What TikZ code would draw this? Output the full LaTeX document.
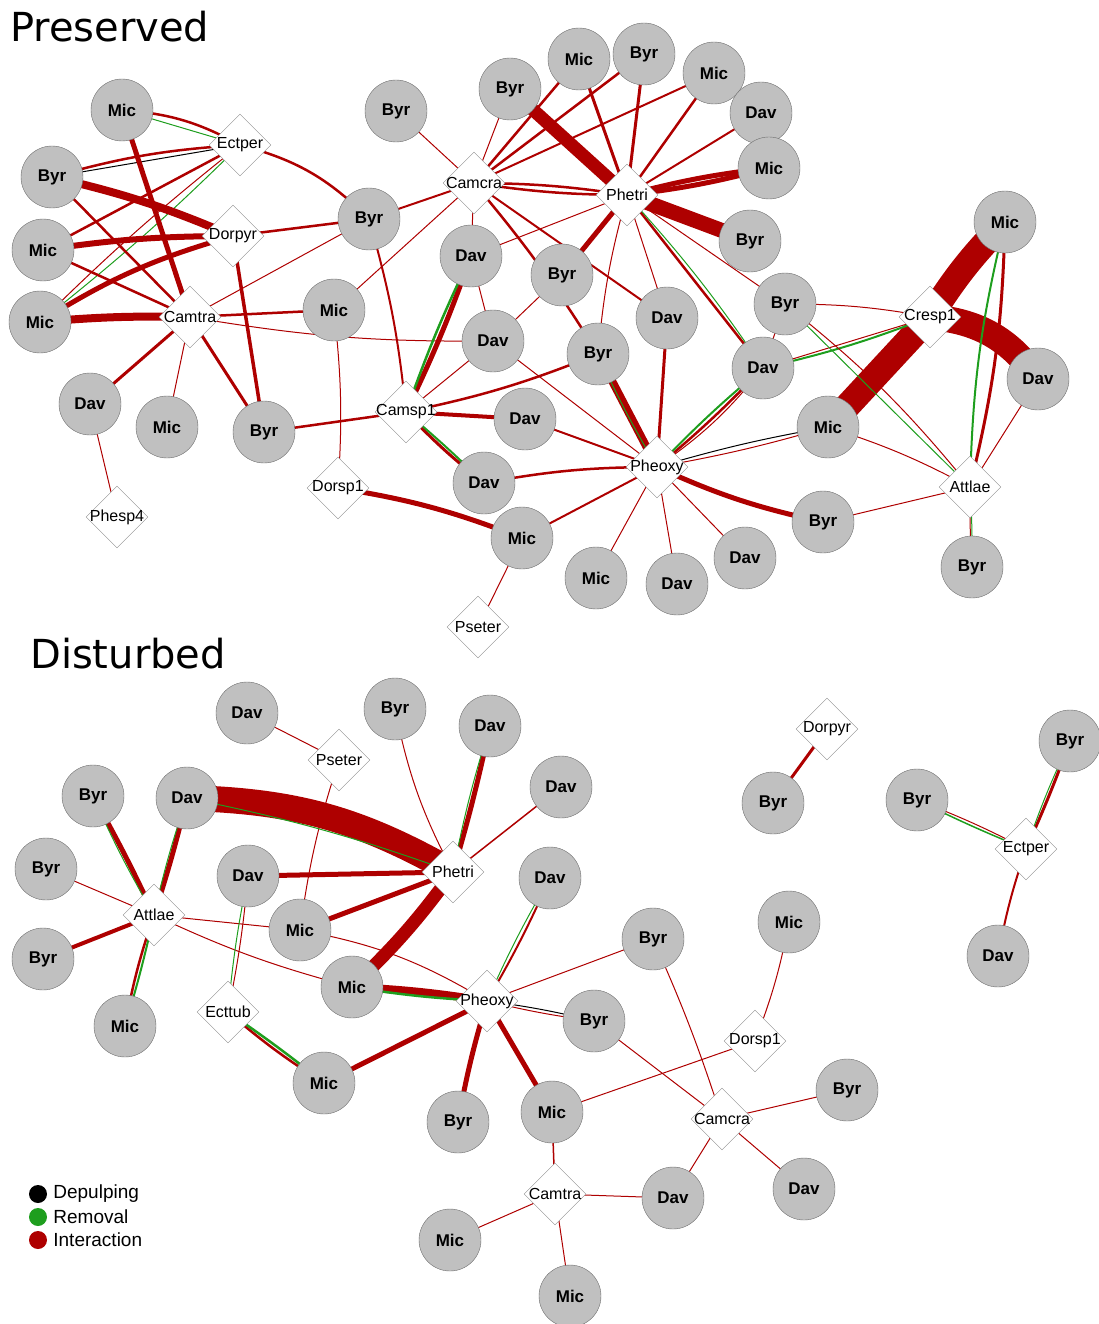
\documentclass[tikz,border=0pt]{standalone}
\usepackage{fontspec}
\setmainfont{Liberation Sans}
\newfontfamily\titlefont{DejaVu Sans}
\usepackage{tikz}
\usepackage{xcolor}
\definecolor{int_red}{HTML}{AE0000}
\definecolor{rem_green}{HTML}{1E9E1E}
\definecolor{plant_gray}{HTML}{C0C0C0}
\usetikzlibrary{shapes.geometric}
\pgfdeclarelayer{edges}
\pgfsetlayers{edges,main}
\tikzset{PLANT/.style={circle,minimum size=62pt,inner sep=0pt,draw=gray!85!black,fill=plant_gray,font=\fontsize{17}{17}\selectfont\bfseries}}
\tikzset{SPECIES/.style={diamond,minimum width=62pt,minimum height=62pt,inner sep=0pt,draw=gray!90,fill=white,label={[font=\fontsize{16}{16}\selectfont,inner sep=0pt]center:#1}}}
\tikzset{INTER/.style={int_red,line width=#1}, INTER/.default=1pt}
\tikzset{REMOV/.style={rem_green,line width=#1}, REMOV/.default=1pt}
\tikzset{DEPUL/.style={black,line width=#1}, DEPUL/.default=1pt}
\tikzset{TITLE/.style={anchor=base west,inner sep=0pt,font=\titlefont\fontsize{40}{40}\selectfont}}
\tikzset{LEGDOT/.style={circle,minimum size=18pt,inner sep=0pt,label={[font=\fontsize{19}{19}\selectfont,inner sep=0pt,xshift=6pt]right:#1}}}

\begin{document}
\begin{tikzpicture}[x=1pt,y=-1pt]
\useasboundingbox (0,0) rectangle (1099,1324);

\node[TITLE] (n_title_pre) at (10,42) {Preserved};
\node[TITLE] (n_title_dis) at (30,668) {Disturbed};

% preserved
\node[PLANT] (n_pre_mic1) at (122,110) {Mic};
\node[PLANT] (n_pre_byr1) at (52,177) {Byr};
\node[PLANT] (n_pre_mic2) at (43,250) {Mic};
\node[PLANT] (n_pre_mic3) at (40,322) {Mic};
\node[PLANT] (n_pre_dav1) at (90,404) {Dav};
\node[PLANT] (n_pre_mic4) at (167,427) {Mic};
\node[PLANT] (n_pre_byr2) at (264,432) {Byr};
\node[PLANT] (n_pre_mic5) at (334,310) {Mic};
\node[PLANT] (n_pre_byr3) at (369,219) {Byr};
\node[PLANT] (n_pre_byr4) at (396,111) {Byr};
\node[PLANT] (n_pre_byr5) at (510,89) {Byr};
\node[PLANT] (n_pre_mic6) at (579,59) {Mic};
\node[PLANT] (n_pre_byr6) at (644,54) {Byr};
\node[PLANT] (n_pre_mic7) at (714,73) {Mic};
\node[PLANT] (n_pre_dav2) at (761,113) {Dav};
\node[PLANT] (n_pre_mic8) at (769,168) {Mic};
\node[PLANT] (n_pre_byr7) at (750,241) {Byr};
\node[PLANT] (n_pre_dav3) at (471,256) {Dav};
\node[PLANT] (n_pre_byr8) at (562,275) {Byr};
\node[PLANT] (n_pre_dav4) at (493,341) {Dav};
\node[PLANT] (n_pre_byr9) at (598,354) {Byr};
\node[PLANT] (n_pre_dav5) at (667,318) {Dav};
\node[PLANT] (n_pre_byr10) at (785,304) {Byr};
\node[PLANT] (n_pre_dav6) at (763,368) {Dav};
\node[PLANT] (n_pre_mic9) at (1005,222) {Mic};
\node[PLANT] (n_pre_dav7) at (1038,379) {Dav};
\node[PLANT] (n_pre_mic10) at (828,427) {Mic};
\node[PLANT] (n_pre_dav8) at (525,419) {Dav};
\node[PLANT] (n_pre_dav9) at (484,483) {Dav};
\node[PLANT] (n_pre_mic11) at (522,538) {Mic};
\node[PLANT] (n_pre_mic12) at (596,578) {Mic};
\node[PLANT] (n_pre_dav10) at (677,584) {Dav};
\node[PLANT] (n_pre_dav11) at (745,558) {Dav};
\node[PLANT] (n_pre_byr11) at (823,522) {Byr};
\node[PLANT] (n_pre_byr12) at (972,567) {Byr};

\node[SPECIES=Ectper] (n_pre_ectper) at (240,145) {};
\node[SPECIES=Dorpyr] (n_pre_dorpyr) at (233,236) {};
\node[SPECIES=Camtra] (n_pre_camtra) at (190,317) {};
\node[SPECIES=Camcra] (n_pre_camcra) at (474,183) {};
\node[SPECIES=Phetri] (n_pre_phetri) at (627,195) {};
\node[SPECIES=Cresp1] (n_pre_cresp1) at (930,317) {};
\node[SPECIES=Camsp1] (n_pre_camsp1) at (406,412) {};
\node[SPECIES=Dorsp1] (n_pre_dorsp1) at (338,488) {};
\node[SPECIES=Pheoxy] (n_pre_pheoxy) at (657,467) {};
\node[SPECIES=Attlae] (n_pre_attlae) at (970,487) {};
\node[SPECIES=Phesp4] (n_pre_phesp4) at (117,517) {};
\node[SPECIES=Pseter] (n_pre_pseter) at (478,627) {};

% disturbed
\node[PLANT] (n_dis_dav1) at (247,713) {Dav};
\node[PLANT] (n_dis_byr1) at (395,709) {Byr};
\node[PLANT] (n_dis_dav2) at (490,726) {Dav};
\node[PLANT] (n_dis_dav3) at (561,787) {Dav};
\node[PLANT] (n_dis_byr2) at (93,796) {Byr};
\node[PLANT] (n_dis_dav4) at (187,798) {Dav};
\node[PLANT] (n_dis_byr3) at (46,869) {Byr};
\node[PLANT] (n_dis_dav5) at (248,876) {Dav};
\node[PLANT] (n_dis_dav6) at (550,878) {Dav};
\node[PLANT] (n_dis_mic1) at (300,930) {Mic};
\node[PLANT] (n_dis_byr4) at (43,959) {Byr};
\node[PLANT] (n_dis_mic2) at (352,987) {Mic};
\node[PLANT] (n_dis_byr5) at (653,939) {Byr};
\node[PLANT] (n_dis_mic3) at (789,922) {Mic};
\node[PLANT] (n_dis_mic4) at (125,1026) {Mic};
\node[PLANT] (n_dis_byr6) at (594,1021) {Byr};
\node[PLANT] (n_dis_mic5) at (324,1083) {Mic};
\node[PLANT] (n_dis_byr7) at (458,1122) {Byr};
\node[PLANT] (n_dis_mic6) at (552,1112) {Mic};
\node[PLANT] (n_dis_byr8) at (847,1090) {Byr};
\node[PLANT] (n_dis_dav7) at (804,1189) {Dav};
\node[PLANT] (n_dis_dav8) at (673,1198) {Dav};
\node[PLANT] (n_dis_mic7) at (450,1240) {Mic};
\node[PLANT] (n_dis_mic8) at (570,1296) {Mic};
\node[PLANT] (n_dis_byr9) at (773,803) {Byr};
\node[PLANT] (n_dis_byr10) at (917,800) {Byr};
\node[PLANT] (n_dis_byr11) at (1070,741) {Byr};
\node[PLANT] (n_dis_dav9) at (998,956) {Dav};

\node[SPECIES=Pseter] (n_dis_pseter) at (339,760) {};
\node[SPECIES=Phetri] (n_dis_phetri) at (453,872) {};
\node[SPECIES=Attlae] (n_dis_attlae) at (154,915) {};
\node[SPECIES=Ecttub] (n_dis_ecttub) at (228,1012) {};
\node[SPECIES=Pheoxy] (n_dis_pheoxy) at (487,1001) {};
\node[SPECIES=Dorsp1] (n_dis_dorsp1) at (755,1041) {};
\node[SPECIES=Camcra] (n_dis_camcra) at (722,1119) {};
\node[SPECIES=Camtra] (n_dis_camtra) at (555,1194) {};
\node[SPECIES=Dorpyr] (n_dis_dorpyr) at (827,729) {};
\node[SPECIES=Ectper] (n_dis_ectper) at (1026,849) {};

\node[LEGDOT=Depulping, fill=black] (n_leg_dep) at (38,1194) {};
\node[LEGDOT=Removal, fill=rem_green] (n_leg_rem) at (38,1217) {};
\node[LEGDOT=Interaction, fill=int_red] (n_leg_int) at (38,1240) {};

\begin{pgfonlayer}{edges}
% preserved links
\draw[INTER=2.5pt] (n_pre_mic1.center) to[bend left=12] (n_pre_ectper.center);
\draw[REMOV] (n_pre_mic1.center) -- (n_pre_ectper.center);
\draw[INTER=2.5pt] (n_pre_byr1.center) to[bend left=6] (n_pre_ectper.center);
\draw[DEPUL] (n_pre_byr1.center) -- (n_pre_ectper.center);
\draw[INTER=2.5pt] (n_pre_mic2.center) -- (n_pre_ectper.center);
\draw[INTER] (n_pre_mic3.center) to[bend left=3] (n_pre_ectper.center);
\draw[REMOV] (n_pre_mic3.center) to[bend right=3] (n_pre_ectper.center);
\draw[INTER=2.5pt] (n_pre_ectper.center) to[bend left=15] (n_pre_byr3.center);

\draw[INTER=8pt] (n_pre_byr1.center) to[bend left=5] (n_pre_dorpyr.center);
\draw[INTER=6pt] (n_pre_mic2.center) to[bend left=4] (n_pre_dorpyr.center);
\draw[INTER=5pt] (n_pre_mic3.center) to[bend left=8] (n_pre_dorpyr.center);
\draw[INTER=2.5pt] (n_pre_dorpyr.center) -- (n_pre_byr3.center);
\draw[INTER=3.5pt] (n_pre_dorpyr.center) -- (n_pre_byr2.center);

\draw[INTER=5pt] (n_pre_mic1.center) -- (n_pre_camtra.center);
\draw[INTER=2.5pt] (n_pre_byr1.center) -- (n_pre_camtra.center);
\draw[INTER=2.5pt] (n_pre_mic2.center) -- (n_pre_camtra.center);
\draw[INTER=8pt] (n_pre_mic3.center) to[bend left=3] (n_pre_camtra.center);
\draw[INTER=3pt] (n_pre_camtra.center) -- (n_pre_dav1.center);
\draw[INTER] (n_pre_camtra.center) -- (n_pre_mic4.center);
\draw[INTER=3pt] (n_pre_camtra.center) -- (n_pre_byr2.center);
\draw[INTER=2.5pt] (n_pre_camtra.center) -- (n_pre_mic5.center);
\draw[INTER] (n_pre_camtra.center) -- (n_pre_byr3.center);
\draw[INTER] (n_pre_camtra.center) to[bend right=5] (n_pre_dav4.center);
\draw[INTER] (n_pre_dav1.center) -- (n_pre_phesp4.center);

\draw[INTER] (n_pre_mic5.center) to[bend left=5] (n_pre_dorsp1.center);
\draw[INTER] (n_pre_mic5.center) -- (n_pre_camcra.center);
\draw[INTER=2pt] (n_pre_byr3.center) -- (n_pre_camcra.center);
\draw[INTER=2pt] (n_pre_byr3.center) to[bend left=5] (n_pre_camsp1.center);

\draw[INTER] (n_pre_byr4.center) -- (n_pre_camcra.center);
\draw[INTER] (n_pre_byr5.center) -- (n_pre_camcra.center);
\draw[INTER] (n_pre_camcra.center) -- (n_pre_dav3.center);
\draw[INTER=2.5pt] (n_pre_camcra.center) -- (n_pre_mic6.center);
\draw[INTER=2.5pt] (n_pre_camcra.center) -- (n_pre_byr6.center);
\draw[INTER=2pt] (n_pre_camcra.center) -- (n_pre_mic7.center);
\draw[INTER=2.5pt] (n_pre_camcra.center) to[bend left=4] (n_pre_phetri.center);
\draw[INTER=2.5pt] (n_pre_camcra.center) to[bend right=4] (n_pre_phetri.center);
\draw[INTER=2.5pt] (n_pre_camcra.center) to[bend left=4] (n_pre_byr9.center);
\draw[INTER=2pt] (n_pre_camcra.center) -- (n_pre_dav5.center);

\draw[INTER=13pt] (n_pre_byr5.center) -- (n_pre_phetri.center);
\draw[INTER=3pt] (n_pre_mic6.center) -- (n_pre_phetri.center);
\draw[INTER=3pt] (n_pre_byr6.center) -- (n_pre_phetri.center);
\draw[INTER=2.5pt] (n_pre_mic7.center) -- (n_pre_phetri.center);
\draw[INTER=2pt] (n_pre_dav2.center) -- (n_pre_phetri.center);
\draw[INTER=5pt] (n_pre_mic8.center) to[bend left=4] (n_pre_phetri.center);
\draw[INTER=5pt] (n_pre_mic8.center) to[bend right=4] (n_pre_phetri.center);
\draw[INTER=15pt] (n_pre_byr7.center) -- (n_pre_phetri.center);
\draw[INTER=5pt] (n_pre_phetri.center) -- (n_pre_byr8.center);
\draw[INTER] (n_pre_phetri.center) to[bend right=5] (n_pre_byr9.center);
\draw[INTER] (n_pre_phetri.center) -- (n_pre_dav5.center);
\draw[INTER] (n_pre_phetri.center) -- (n_pre_byr10.center);
\draw[INTER=2.5pt] (n_pre_phetri.center) -- (n_pre_dav6.center);
\draw[REMOV] (n_pre_phetri.center) to[bend left=4] (n_pre_dav6.center);
\draw[INTER] (n_pre_dav3.center) -- (n_pre_phetri.center);

\draw[INTER=5pt] (n_pre_dav3.center) to[bend left=3] (n_pre_camsp1.center);
\draw[REMOV=2.5pt] (n_pre_dav3.center) to[bend right=3] (n_pre_camsp1.center);
\draw[INTER] (n_pre_dav4.center) -- (n_pre_camsp1.center);
\draw[INTER=2.5pt] (n_pre_byr9.center) to[bend left=5] (n_pre_camsp1.center);
\draw[INTER=4pt] (n_pre_camsp1.center) -- (n_pre_dav8.center);
\draw[INTER=3pt] (n_pre_camsp1.center) to[bend right=4] (n_pre_dav9.center);
\draw[REMOV=2pt] (n_pre_camsp1.center) to[bend left=2] (n_pre_dav9.center);
\draw[INTER=2.5pt] (n_pre_camsp1.center) -- (n_pre_byr2.center);
\draw[INTER] (n_pre_dav3.center) -- (n_pre_dav4.center);
\draw[INTER] (n_pre_dav4.center) -- (n_pre_byr8.center);
\draw[INTER] (n_pre_dav4.center) -- (n_pre_pheoxy.center);

\draw[INTER=8pt] (n_pre_byr9.center) -- (n_pre_pheoxy.center);
\draw[REMOV] (n_pre_byr9.center) to[bend right=3] (n_pre_pheoxy.center);
\draw[INTER=3pt] (n_pre_dav5.center) -- (n_pre_pheoxy.center);
\draw[INTER=2.5pt] (n_pre_dav6.center) to[bend left=3] (n_pre_pheoxy.center);
\draw[REMOV=2pt] (n_pre_dav6.center) to[bend right=3] (n_pre_pheoxy.center);
\draw[INTER] (n_pre_dav6.center) to[bend left=8] (n_pre_pheoxy.center);
\draw[INTER=2pt] (n_pre_dav8.center) -- (n_pre_pheoxy.center);
\draw[INTER=2.5pt] (n_pre_dav9.center) to[bend left=5] (n_pre_pheoxy.center);
\draw[INTER=2pt] (n_pre_mic11.center) -- (n_pre_pheoxy.center);
\draw[INTER] (n_pre_pheoxy.center) -- (n_pre_mic12.center);
\draw[INTER] (n_pre_pheoxy.center) -- (n_pre_dav10.center);
\draw[INTER] (n_pre_pheoxy.center) -- (n_pre_dav11.center);
\draw[INTER=5pt] (n_pre_pheoxy.center) to[bend right=6] (n_pre_byr11.center);
\draw[DEPUL] (n_pre_pheoxy.center) to[bend left=3] (n_pre_mic10.center);
\draw[INTER] (n_pre_pheoxy.center) to[bend right=3] (n_pre_mic10.center);
\draw[INTER=5pt] (n_pre_mic11.center) to[bend right=6] (n_pre_dorsp1.center);
\draw[INTER] (n_pre_mic11.center) -- (n_pre_pseter.center);

\draw[INTER=26pt] (n_pre_mic9.center) to[bend right=6] (n_pre_cresp1.center);
\draw[INTER=26pt] (n_pre_cresp1.center) to[bend left=25] (n_pre_dav7.center);
\draw[INTER=26pt] (n_pre_cresp1.center) -- (n_pre_mic10.center);
\draw[INTER] (n_pre_byr10.center) to[bend left=5] (n_pre_cresp1.center);
\draw[INTER] (n_pre_dav6.center) -- (n_pre_cresp1.center);
\draw[REMOV=2pt] (n_pre_dav6.center) to[bend right=4] (n_pre_cresp1.center);

\draw[INTER=3pt] (n_pre_mic9.center) to[bend left=6] (n_pre_attlae.center);
\draw[REMOV=2pt] (n_pre_mic9.center) to[bend right=6] (n_pre_attlae.center);
\draw[INTER] (n_pre_dav7.center) -- (n_pre_attlae.center);
\draw[INTER] (n_pre_mic10.center) to[bend left=5] (n_pre_attlae.center);
\draw[INTER] (n_pre_byr10.center) to[bend left=6] (n_pre_attlae.center);
\draw[REMOV] (n_pre_byr10.center) -- (n_pre_attlae.center);
\draw[INTER] (n_pre_byr11.center) -- (n_pre_attlae.center);
\draw[INTER] (n_pre_byr12.center) to[bend left=2] (n_pre_attlae.center);
\draw[REMOV] (n_pre_byr12.center) to[bend right=2] (n_pre_attlae.center);
\draw[INTER] (n_pre_byr10.center) -- (n_pre_dav6.center);

% disturbed links
\draw[INTER] (n_dis_dav1.center) -- (n_dis_pseter.center);
\draw[INTER] (n_dis_pseter.center) to[bend right=5] (n_dis_mic1.center);
\draw[INTER] (n_dis_byr1.center) to[bend right=8] (n_dis_phetri.center);
\draw[INTER=5pt] (n_dis_dav2.center) to[bend left=2] (n_dis_phetri.center);
\draw[REMOV] (n_dis_dav2.center) to[bend right=3] (n_dis_phetri.center);
\draw[INTER=1.5pt] (n_dis_dav3.center) -- (n_dis_phetri.center);
\draw[INTER=26pt] (n_dis_dav4.center) to[bend left=14] (n_dis_phetri.center);
\draw[REMOV] (n_dis_dav4.center) to[bend left=4] (n_dis_phetri.center);
\draw[INTER=5pt] (n_dis_dav5.center) -- (n_dis_phetri.center);
\draw[INTER=5pt] (n_dis_mic1.center) -- (n_dis_phetri.center);
\draw[INTER=13pt] (n_dis_mic2.center) to[bend right=5] (n_dis_phetri.center);

\draw[INTER=5pt] (n_dis_byr2.center) to[bend left=2] (n_dis_attlae.center);
\draw[REMOV] (n_dis_byr2.center) to[bend right=3] (n_dis_attlae.center);
\draw[INTER=5pt] (n_dis_dav4.center) to[bend left=2] (n_dis_attlae.center);
\draw[REMOV] (n_dis_dav4.center) to[bend right=3] (n_dis_attlae.center);
\draw[INTER] (n_dis_byr3.center) -- (n_dis_attlae.center);
\draw[INTER=4pt] (n_dis_byr4.center) -- (n_dis_attlae.center);
\draw[INTER=2.5pt] (n_dis_mic4.center) to[bend left=4] (n_dis_attlae.center);
\draw[REMOV=2pt] (n_dis_mic4.center) to[bend right=2] (n_dis_attlae.center);
\draw[INTER] (n_dis_attlae.center) -- (n_dis_mic1.center);
\draw[INTER] (n_dis_attlae.center) to[bend right=5] (n_dis_mic2.center);

\draw[INTER] (n_dis_dav5.center) to[bend left=3] (n_dis_ecttub.center);
\draw[REMOV] (n_dis_dav5.center) to[bend right=3] (n_dis_ecttub.center);
\draw[INTER=2.5pt] (n_dis_ecttub.center) to[bend right=4] (n_dis_mic5.center);
\draw[REMOV=2.5pt] (n_dis_ecttub.center) to[bend left=2] (n_dis_mic5.center);

\draw[INTER] (n_dis_mic1.center) to[bend left=10] (n_dis_pheoxy.center);
\draw[INTER=8pt] (n_dis_mic2.center) to[bend left=3] (n_dis_pheoxy.center);
\draw[REMOV=2.5pt] (n_dis_mic2.center) to[bend right=3] (n_dis_pheoxy.center);
\draw[INTER=5pt] (n_dis_mic5.center) -- (n_dis_pheoxy.center);
\draw[INTER=2pt] (n_dis_dav6.center) to[bend left=3] (n_dis_pheoxy.center);
\draw[REMOV] (n_dis_dav6.center) to[bend right=3] (n_dis_pheoxy.center);
\draw[INTER] (n_dis_byr5.center) -- (n_dis_pheoxy.center);
\draw[DEPUL] (n_dis_byr6.center) to[bend right=3] (n_dis_pheoxy.center);
\draw[INTER] (n_dis_byr6.center) to[bend left=3] (n_dis_pheoxy.center);
\draw[INTER=5pt] (n_dis_byr7.center) to[bend left=3] (n_dis_pheoxy.center);
\draw[INTER=5pt] (n_dis_mic6.center) -- (n_dis_pheoxy.center);

\draw[INTER] (n_dis_byr5.center) to[bend left=3] (n_dis_camcra.center);
\draw[INTER] (n_dis_byr6.center) -- (n_dis_camcra.center);
\draw[INTER] (n_dis_mic6.center) -- (n_dis_dorsp1.center);
\draw[INTER] (n_dis_mic3.center) to[bend left=5] (n_dis_dorsp1.center);
\draw[INTER=1.5pt] (n_dis_mic6.center) -- (n_dis_camtra.center);
\draw[INTER] (n_dis_camcra.center) -- (n_dis_byr8.center);
\draw[INTER] (n_dis_camcra.center) -- (n_dis_dav7.center);
\draw[INTER] (n_dis_camcra.center) -- (n_dis_dav8.center);
\draw[INTER] (n_dis_camtra.center) -- (n_dis_dav8.center);
\draw[INTER] (n_dis_camtra.center) -- (n_dis_mic7.center);
\draw[INTER] (n_dis_camtra.center) -- (n_dis_mic8.center);

\draw[INTER=3pt] (n_dis_dorpyr.center) -- (n_dis_byr9.center);
\draw[INTER] (n_dis_ectper.center) to[bend right=3] (n_dis_byr10.center);
\draw[REMOV=1.5pt] (n_dis_ectper.center) to[bend left=2] (n_dis_byr10.center);
\draw[INTER=3pt] (n_dis_ectper.center) to[bend right=2] (n_dis_byr11.center);
\draw[REMOV] (n_dis_ectper.center) to[bend left=3] (n_dis_byr11.center);
\draw[INTER=2pt] (n_dis_ectper.center) to[bend right=4] (n_dis_dav9.center);
\end{pgfonlayer}

\end{tikzpicture}
\end{document}
